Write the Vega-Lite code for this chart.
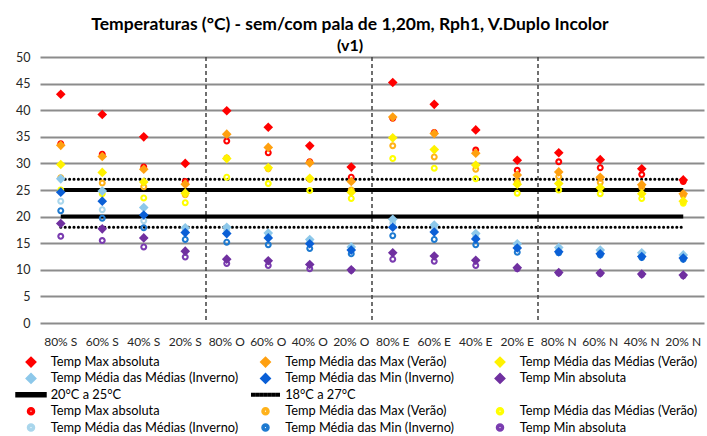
{
  "$schema": "https://vega.github.io/schema/vega-lite/v6.json",
  "width": 664,
  "height": 266,
  "autosize": {"type": "none"},
  "padding": {"left": 40, "top": 57, "right": 3, "bottom": 113},
  "background": "white",
  "config": {"font": "Lato", "view": {"stroke": null}},
  "title": {
    "text": "Temperaturas (°C) - sem/com pala de 1,20m, Rph1, V.Duplo Incolor",
    "subtitle": "(v1)",
    "frame": "group",
    "anchor": "middle",
    "dx": -22,
    "offset": -3,
    "fontSize": 17.5,
    "fontWeight": "bold",
    "color": "#000000",
    "subtitleFontSize": 16,
    "subtitleFontWeight": "bold",
    "subtitleColor": "#000000",
    "subtitlePadding": 5
  },
  "datasets": {
    "sep": [{"c": "20% S"}, {"c": "20% O"}, {"c": "20% E"}],
    "solid": [
      {"c": "80% S", "v": 20, "k": "20", "s": "07 20°C a 25°C"},
      {"c": "20% N", "v": 20, "k": "20", "s": "07 20°C a 25°C"},
      {"c": "80% S", "v": 25, "k": "25", "s": "07 20°C a 25°C"},
      {"c": "20% N", "v": 25, "k": "25", "s": "07 20°C a 25°C"}
    ],
    "dotted": [
      {"c": "80% S", "v": 18, "k": "18", "s": "08 18°C a 27°C"},
      {"c": "20% N", "v": 18, "k": "18", "s": "08 18°C a 27°C"},
      {"c": "80% S", "v": 27, "k": "27", "s": "08 18°C a 27°C"},
      {"c": "20% N", "v": 27, "k": "27", "s": "08 18°C a 27°C"}
    ],
    "pts": [
      {"c": "80% S", "s": "10 Temp Max absoluta", "v": 33.7},
      {"c": "80% S", "s": "11 Temp Média das Max (Verão)", "v": 27.3},
      {"c": "80% S", "s": "12 Temp Média das Médias (Verão)", "v": 25.0},
      {"c": "80% S", "s": "13 Temp Média das Médias (Inverno)", "v": 22.9},
      {"c": "80% S", "s": "14 Temp Média das Min (Inverno)", "v": 21.1},
      {"c": "80% S", "s": "15 Temp Min absoluta", "v": 16.3},
      {"c": "60% S", "s": "10 Temp Max absoluta", "v": 31.7},
      {"c": "60% S", "s": "11 Temp Média das Max (Verão)", "v": 26.3},
      {"c": "60% S", "s": "12 Temp Média das Médias (Verão)", "v": 24.3},
      {"c": "60% S", "s": "13 Temp Média das Médias (Inverno)", "v": 21.3},
      {"c": "60% S", "s": "14 Temp Média das Min (Inverno)", "v": 19.7},
      {"c": "60% S", "s": "15 Temp Min absoluta", "v": 15.5},
      {"c": "40% S", "s": "10 Temp Max absoluta", "v": 29.3},
      {"c": "40% S", "s": "11 Temp Média das Max (Verão)", "v": 25.6},
      {"c": "40% S", "s": "12 Temp Média das Médias (Verão)", "v": 23.5},
      {"c": "40% S", "s": "13 Temp Média das Médias (Inverno)", "v": 19.2},
      {"c": "40% S", "s": "14 Temp Média das Min (Inverno)", "v": 17.9},
      {"c": "40% S", "s": "15 Temp Min absoluta", "v": 14.3},
      {"c": "20% S", "s": "10 Temp Max absoluta", "v": 26.6},
      {"c": "20% S", "s": "11 Temp Média das Max (Verão)", "v": 24.1},
      {"c": "20% S", "s": "12 Temp Média das Médias (Verão)", "v": 22.6},
      {"c": "20% S", "s": "13 Temp Média das Médias (Inverno)", "v": 17.5},
      {"c": "20% S", "s": "14 Temp Média das Min (Inverno)", "v": 15.7},
      {"c": "20% S", "s": "15 Temp Min absoluta", "v": 12.4},
      {"c": "80% O", "s": "10 Temp Max absoluta", "v": 34.2},
      {"c": "80% O", "s": "11 Temp Média das Max (Verão)", "v": 31.0},
      {"c": "80% O", "s": "12 Temp Média das Médias (Verão)", "v": 27.4},
      {"c": "80% O", "s": "13 Temp Média das Médias (Inverno)", "v": 17.4},
      {"c": "80% O", "s": "14 Temp Média das Min (Inverno)", "v": 15.2},
      {"c": "80% O", "s": "15 Temp Min absoluta", "v": 11.2},
      {"c": "60% O", "s": "10 Temp Max absoluta", "v": 32.0},
      {"c": "60% O", "s": "11 Temp Média das Max (Verão)", "v": 29.0},
      {"c": "60% O", "s": "12 Temp Média das Médias (Verão)", "v": 26.2},
      {"c": "60% O", "s": "13 Temp Média das Médias (Inverno)", "v": 16.3},
      {"c": "60% O", "s": "14 Temp Média das Min (Inverno)", "v": 14.7},
      {"c": "60% O", "s": "15 Temp Min absoluta", "v": 10.8},
      {"c": "40% O", "s": "10 Temp Max absoluta", "v": 30.3},
      {"c": "40% O", "s": "11 Temp Média das Max (Verão)", "v": 27.0},
      {"c": "40% O", "s": "12 Temp Média das Médias (Verão)", "v": 24.9},
      {"c": "40% O", "s": "13 Temp Média das Médias (Inverno)", "v": 15.3},
      {"c": "40% O", "s": "14 Temp Média das Min (Inverno)", "v": 14.0},
      {"c": "40% O", "s": "15 Temp Min absoluta", "v": 10.2},
      {"c": "20% O", "s": "10 Temp Max absoluta", "v": 27.4},
      {"c": "20% O", "s": "11 Temp Média das Max (Verão)", "v": 25.0},
      {"c": "20% O", "s": "12 Temp Média das Médias (Verão)", "v": 23.4},
      {"c": "20% O", "s": "13 Temp Média das Médias (Inverno)", "v": 13.8},
      {"c": "20% O", "s": "14 Temp Média das Min (Inverno)", "v": 13.0},
      {"c": "20% O", "s": "15 Temp Min absoluta", "v": 9.9},
      {"c": "80% E", "s": "10 Temp Max absoluta", "v": 38.5},
      {"c": "80% E", "s": "11 Temp Média das Max (Verão)", "v": 33.3},
      {"c": "80% E", "s": "12 Temp Média das Médias (Verão)", "v": 30.9},
      {"c": "80% E", "s": "13 Temp Média das Médias (Inverno)", "v": 18.8},
      {"c": "80% E", "s": "14 Temp Média das Min (Inverno)", "v": 16.4},
      {"c": "80% E", "s": "15 Temp Min absoluta", "v": 12.0},
      {"c": "60% E", "s": "10 Temp Max absoluta", "v": 35.8},
      {"c": "60% E", "s": "11 Temp Média das Max (Verão)", "v": 31.2},
      {"c": "60% E", "s": "12 Temp Média das Médias (Verão)", "v": 29.1},
      {"c": "60% E", "s": "13 Temp Média das Médias (Inverno)", "v": 17.6},
      {"c": "60% E", "s": "14 Temp Média das Min (Inverno)", "v": 15.7},
      {"c": "60% E", "s": "15 Temp Min absoluta", "v": 11.6},
      {"c": "40% E", "s": "10 Temp Max absoluta", "v": 32.5},
      {"c": "40% E", "s": "11 Temp Média das Max (Verão)", "v": 28.9},
      {"c": "40% E", "s": "12 Temp Média das Médias (Verão)", "v": 27.1},
      {"c": "40% E", "s": "13 Temp Média das Médias (Inverno)", "v": 16.2},
      {"c": "40% E", "s": "14 Temp Média das Min (Inverno)", "v": 14.7},
      {"c": "40% E", "s": "15 Temp Min absoluta", "v": 10.8},
      {"c": "20% E", "s": "10 Temp Max absoluta", "v": 28.7},
      {"c": "20% E", "s": "11 Temp Média das Max (Verão)", "v": 26.5},
      {"c": "20% E", "s": "12 Temp Média das Médias (Verão)", "v": 24.4},
      {"c": "20% E", "s": "13 Temp Média das Médias (Inverno)", "v": 14.5},
      {"c": "20% E", "s": "14 Temp Média das Min (Inverno)", "v": 13.3},
      {"c": "20% E", "s": "15 Temp Min absoluta", "v": 10.2},
      {"c": "80% N", "s": "10 Temp Max absoluta", "v": 30.3},
      {"c": "80% N", "s": "11 Temp Média das Max (Verão)", "v": 27.5},
      {"c": "80% N", "s": "12 Temp Média das Médias (Verão)", "v": 25.0},
      {"c": "80% N", "s": "13 Temp Média das Médias (Inverno)", "v": 13.8},
      {"c": "80% N", "s": "14 Temp Média das Min (Inverno)", "v": 13.2},
      {"c": "80% N", "s": "15 Temp Min absoluta", "v": 9.4},
      {"c": "60% N", "s": "10 Temp Max absoluta", "v": 29.2},
      {"c": "60% N", "s": "11 Temp Média das Max (Verão)", "v": 26.4},
      {"c": "60% N", "s": "12 Temp Média das Médias (Verão)", "v": 24.3},
      {"c": "60% N", "s": "13 Temp Média das Médias (Inverno)", "v": 13.4},
      {"c": "60% N", "s": "14 Temp Média das Min (Inverno)", "v": 12.8},
      {"c": "60% N", "s": "15 Temp Min absoluta", "v": 9.3},
      {"c": "40% N", "s": "10 Temp Max absoluta", "v": 27.9},
      {"c": "40% N", "s": "11 Temp Média das Max (Verão)", "v": 25.5},
      {"c": "40% N", "s": "12 Temp Média das Médias (Verão)", "v": 23.4},
      {"c": "40% N", "s": "13 Temp Média das Médias (Inverno)", "v": 12.9},
      {"c": "40% N", "s": "14 Temp Média das Min (Inverno)", "v": 12.3},
      {"c": "40% N", "s": "15 Temp Min absoluta", "v": 9.1},
      {"c": "20% N", "s": "10 Temp Max absoluta", "v": 26.6},
      {"c": "20% N", "s": "11 Temp Média das Max (Verão)", "v": 24.0},
      {"c": "20% N", "s": "12 Temp Média das Médias (Verão)", "v": 22.5},
      {"c": "20% N", "s": "13 Temp Média das Médias (Inverno)", "v": 12.5},
      {"c": "20% N", "s": "14 Temp Média das Min (Inverno)", "v": 12.0},
      {"c": "20% N", "s": "15 Temp Min absoluta", "v": 8.9},
      {"c": "80% S", "s": "01 Temp Max absoluta", "v": 43.0},
      {"c": "80% S", "s": "02 Temp Média das Max (Verão)", "v": 33.4},
      {"c": "80% S", "s": "03 Temp Média das Médias (Verão)", "v": 29.8},
      {"c": "80% S", "s": "04 Temp Média das Médias (Inverno)", "v": 27.1},
      {"c": "80% S", "s": "05 Temp Média das Min (Inverno)", "v": 24.6},
      {"c": "80% S", "s": "06 Temp Min absoluta", "v": 18.7},
      {"c": "60% S", "s": "01 Temp Max absoluta", "v": 39.2},
      {"c": "60% S", "s": "02 Temp Média das Max (Verão)", "v": 31.3},
      {"c": "60% S", "s": "03 Temp Média das Médias (Verão)", "v": 28.3},
      {"c": "60% S", "s": "04 Temp Média das Médias (Inverno)", "v": 24.8},
      {"c": "60% S", "s": "05 Temp Média das Min (Inverno)", "v": 22.9},
      {"c": "60% S", "s": "06 Temp Min absoluta", "v": 17.7},
      {"c": "40% S", "s": "01 Temp Max absoluta", "v": 35.0},
      {"c": "40% S", "s": "02 Temp Média das Max (Verão)", "v": 28.9},
      {"c": "40% S", "s": "03 Temp Média das Médias (Verão)", "v": 26.5},
      {"c": "40% S", "s": "04 Temp Média das Médias (Inverno)", "v": 21.7},
      {"c": "40% S", "s": "05 Temp Média das Min (Inverno)", "v": 20.3},
      {"c": "40% S", "s": "06 Temp Min absoluta", "v": 16.0},
      {"c": "20% S", "s": "01 Temp Max absoluta", "v": 30.0},
      {"c": "20% S", "s": "02 Temp Média das Max (Verão)", "v": 26.1},
      {"c": "20% S", "s": "03 Temp Média das Médias (Verão)", "v": 24.4},
      {"c": "20% S", "s": "04 Temp Média das Médias (Inverno)", "v": 17.9},
      {"c": "20% S", "s": "05 Temp Média das Min (Inverno)", "v": 17.0},
      {"c": "20% S", "s": "06 Temp Min absoluta", "v": 13.5},
      {"c": "80% O", "s": "01 Temp Max absoluta", "v": 39.9},
      {"c": "80% O", "s": "02 Temp Média das Max (Verão)", "v": 35.5},
      {"c": "80% O", "s": "03 Temp Média das Médias (Verão)", "v": 30.9},
      {"c": "80% O", "s": "04 Temp Média das Médias (Inverno)", "v": 18.0},
      {"c": "80% O", "s": "05 Temp Média das Min (Inverno)", "v": 16.8},
      {"c": "80% O", "s": "06 Temp Min absoluta", "v": 12.0},
      {"c": "60% O", "s": "01 Temp Max absoluta", "v": 36.8},
      {"c": "60% O", "s": "02 Temp Média das Max (Verão)", "v": 33.0},
      {"c": "60% O", "s": "03 Temp Média das Médias (Verão)", "v": 29.2},
      {"c": "60% O", "s": "04 Temp Média das Médias (Inverno)", "v": 16.9},
      {"c": "60% O", "s": "05 Temp Média das Min (Inverno)", "v": 16.0},
      {"c": "60% O", "s": "06 Temp Min absoluta", "v": 11.7},
      {"c": "40% O", "s": "01 Temp Max absoluta", "v": 33.3},
      {"c": "40% O", "s": "02 Temp Média das Max (Verão)", "v": 30.1},
      {"c": "40% O", "s": "03 Temp Média das Médias (Verão)", "v": 27.2},
      {"c": "40% O", "s": "04 Temp Média das Médias (Inverno)", "v": 15.7},
      {"c": "40% O", "s": "05 Temp Média das Min (Inverno)", "v": 14.9},
      {"c": "40% O", "s": "06 Temp Min absoluta", "v": 11.0},
      {"c": "20% O", "s": "01 Temp Max absoluta", "v": 29.3},
      {"c": "20% O", "s": "02 Temp Média das Max (Verão)", "v": 26.6},
      {"c": "20% O", "s": "03 Temp Média das Médias (Verão)", "v": 24.6},
      {"c": "20% O", "s": "04 Temp Média das Médias (Inverno)", "v": 14.3},
      {"c": "20% O", "s": "05 Temp Média das Min (Inverno)", "v": 13.7},
      {"c": "20% O", "s": "06 Temp Min absoluta", "v": 10.0},
      {"c": "80% E", "s": "01 Temp Max absoluta", "v": 45.2},
      {"c": "80% E", "s": "02 Temp Média das Max (Verão)", "v": 38.7},
      {"c": "80% E", "s": "03 Temp Média das Médias (Verão)", "v": 34.8},
      {"c": "80% E", "s": "04 Temp Média das Médias (Inverno)", "v": 19.5},
      {"c": "80% E", "s": "05 Temp Média das Min (Inverno)", "v": 18.0},
      {"c": "80% E", "s": "06 Temp Min absoluta", "v": 13.2},
      {"c": "60% E", "s": "01 Temp Max absoluta", "v": 41.1},
      {"c": "60% E", "s": "02 Temp Média das Max (Verão)", "v": 35.6},
      {"c": "60% E", "s": "03 Temp Média das Médias (Verão)", "v": 32.6},
      {"c": "60% E", "s": "04 Temp Média das Médias (Inverno)", "v": 18.4},
      {"c": "60% E", "s": "05 Temp Média das Min (Inverno)", "v": 17.1},
      {"c": "60% E", "s": "06 Temp Min absoluta", "v": 12.6},
      {"c": "40% E", "s": "01 Temp Max absoluta", "v": 36.3},
      {"c": "40% E", "s": "02 Temp Média das Max (Verão)", "v": 31.9},
      {"c": "40% E", "s": "03 Temp Média das Médias (Verão)", "v": 29.7},
      {"c": "40% E", "s": "04 Temp Média das Médias (Inverno)", "v": 16.8},
      {"c": "40% E", "s": "05 Temp Média das Min (Inverno)", "v": 15.8},
      {"c": "40% E", "s": "06 Temp Min absoluta", "v": 11.8},
      {"c": "20% E", "s": "01 Temp Max absoluta", "v": 30.6},
      {"c": "20% E", "s": "02 Temp Média das Max (Verão)", "v": 27.8},
      {"c": "20% E", "s": "03 Temp Média das Médias (Verão)", "v": 26.1},
      {"c": "20% E", "s": "04 Temp Média das Médias (Inverno)", "v": 14.9},
      {"c": "20% E", "s": "05 Temp Média das Min (Inverno)", "v": 14.1},
      {"c": "20% E", "s": "06 Temp Min absoluta", "v": 10.4},
      {"c": "80% N", "s": "01 Temp Max absoluta", "v": 32.0},
      {"c": "80% N", "s": "02 Temp Média das Max (Verão)", "v": 28.4},
      {"c": "80% N", "s": "03 Temp Média das Médias (Verão)", "v": 26.2},
      {"c": "80% N", "s": "04 Temp Média das Médias (Inverno)", "v": 14.2},
      {"c": "80% N", "s": "05 Temp Média das Min (Inverno)", "v": 13.4},
      {"c": "80% N", "s": "06 Temp Min absoluta", "v": 9.5},
      {"c": "60% N", "s": "01 Temp Max absoluta", "v": 30.7},
      {"c": "60% N", "s": "02 Temp Média das Max (Verão)", "v": 27.4},
      {"c": "60% N", "s": "03 Temp Média das Médias (Verão)", "v": 25.4},
      {"c": "60% N", "s": "04 Temp Média das Médias (Inverno)", "v": 13.7},
      {"c": "60% N", "s": "05 Temp Média das Min (Inverno)", "v": 13.0},
      {"c": "60% N", "s": "06 Temp Min absoluta", "v": 9.4},
      {"c": "40% N", "s": "01 Temp Max absoluta", "v": 29.0},
      {"c": "40% N", "s": "02 Temp Média das Max (Verão)", "v": 26.0},
      {"c": "40% N", "s": "03 Temp Média das Médias (Verão)", "v": 24.3},
      {"c": "40% N", "s": "04 Temp Média das Médias (Inverno)", "v": 13.2},
      {"c": "40% N", "s": "05 Temp Média das Min (Inverno)", "v": 12.5},
      {"c": "40% N", "s": "06 Temp Min absoluta", "v": 9.2},
      {"c": "20% N", "s": "01 Temp Max absoluta", "v": 26.9},
      {"c": "20% N", "s": "02 Temp Média das Max (Verão)", "v": 24.3},
      {"c": "20% N", "s": "03 Temp Média das Médias (Verão)", "v": 22.9},
      {"c": "20% N", "s": "04 Temp Média das Médias (Inverno)", "v": 12.8},
      {"c": "20% N", "s": "05 Temp Média das Min (Inverno)", "v": 12.2},
      {"c": "20% N", "s": "06 Temp Min absoluta", "v": 9.0}
    ]
  },
  "encoding": {
    "x": {
      "field": "c",
      "type": "nominal",
      "scale": {"type": "band", "domain": ["80% S", "60% S", "40% S", "20% S", "80% O", "60% O", "40% O", "20% O", "80% E", "60% E", "40% E", "20% E", "80% N", "60% N", "40% N", "20% N"], "paddingInner": 0, "paddingOuter": 0},
      "axis": {"title": null, "labelAngle": 0, "ticks": false, "domain": false, "grid": false, "labelPadding": 13, "labelFont": "Lato", "labelFontSize": 12, "labelColor": "#262626"}
    }
  },
  "layer": [
    {
      "data": {"name": "sep"},
      "mark": {"type": "rule", "color": "#404040", "strokeDash": [4, 3], "strokeWidth": 1.5},
      "encoding": {
        "x": {
          "field": "c",
          "type": "nominal",
          "bandPosition": 1,
          "scale": {"type": "band", "domain": ["80% S", "60% S", "40% S", "20% S", "80% O", "60% O", "40% O", "20% O", "80% E", "60% E", "40% E", "20% E", "80% N", "60% N", "40% N", "20% N"], "paddingInner": 0, "paddingOuter": 0},
          "axis": {"title": null, "labelAngle": 0, "ticks": false, "domain": false, "grid": false, "labelPadding": 13, "labelFont": "Lato", "labelFontSize": 12, "labelColor": "#262626"}
        }
      }
    },
    {
      "data": {"name": "solid"},
      "mark": {"type": "line", "strokeWidth": 4, "strokeCap": "butt"},
      "encoding": {
        "y": {"field": "v", "type": "quantitative", "scale": {"domain": [0, 50], "nice": false}, "axis": {"title": null, "values": [0, 5, 10, 15, 20, 25, 30, 35, 40, 45, 50], "ticks": false, "domain": false, "labelPadding": 10, "labelFont": "Lato", "labelFontSize": 12.5, "labelColor": "#262626", "gridColor": "#8C8C8C", "gridWidth": 2}},
        "detail": {"field": "k", "type": "nominal"},
        "color": {
          "field": "s", "type": "nominal",
          "scale": {
            "domain": ["01 Temp Max absoluta", "02 Temp Média das Max (Verão)", "03 Temp Média das Médias (Verão)", "04 Temp Média das Médias (Inverno)", "05 Temp Média das Min (Inverno)", "06 Temp Min absoluta", "07 20°C a 25°C", "08 18°C a 27°C", "09 ", "10 Temp Max absoluta", "11 Temp Média das Max (Verão)", "12 Temp Média das Médias (Verão)", "13 Temp Média das Médias (Inverno)", "14 Temp Média das Min (Inverno)", "15 Temp Min absoluta"],
            "range": ["#FF0000", "#FFA010", "#FFF200", "#8DC8EA", "#0A5FD6", "#7030A0", "#000000", "#000000", "#FFFFFF", "#FF0000", "#FFB21A", "#FFFF00", "#A9D6EC", "#1E7AD0", "#7A3CB0"]
          },
          "legend": {"title": null, "orient": "none", "direction": "horizontal", "legendX": -17, "legendY": 297, "columns": 3, "gridAlign": "all", "columnPadding": 9.5, "rowPadding": 0.4, "symbolSize": 196, "labelOffset": 11.7, "labelFont": "Lato", "labelFontSize": 12.8, "labelColor": "#000000", "labelLimit": 300, "padding": 0, "labelExpr": "substring(datum.value, 3)", "encode": {"symbols": {"update": {"fill": {"scale": "color", "field": "value"}, "shape": {"scale": "shape", "field": "value"}, "stroke": {"value": "transparent"}, "size": {"value": 196}, "opacity": {"value": 1}, "strokeDash": {"value": []}}}}}
        }
      }
    },
    {
      "data": {"name": "dotted"},
      "mark": {"type": "line", "strokeWidth": 3, "strokeCap": "round", "strokeDash": [0.1, 4.3]},
      "encoding": {
        "y": {"field": "v", "type": "quantitative", "scale": {"domain": [0, 50], "nice": false}, "axis": {"title": null, "values": [0, 5, 10, 15, 20, 25, 30, 35, 40, 45, 50], "ticks": false, "domain": false, "labelPadding": 10, "labelFont": "Lato", "labelFontSize": 12.5, "labelColor": "#262626", "gridColor": "#8C8C8C", "gridWidth": 2}},
        "detail": {"field": "k", "type": "nominal"},
        "color": {
          "field": "s", "type": "nominal",
          "scale": {
            "domain": ["01 Temp Max absoluta", "02 Temp Média das Max (Verão)", "03 Temp Média das Médias (Verão)", "04 Temp Média das Médias (Inverno)", "05 Temp Média das Min (Inverno)", "06 Temp Min absoluta", "07 20°C a 25°C", "08 18°C a 27°C", "09 ", "10 Temp Max absoluta", "11 Temp Média das Max (Verão)", "12 Temp Média das Médias (Verão)", "13 Temp Média das Médias (Inverno)", "14 Temp Média das Min (Inverno)", "15 Temp Min absoluta"],
            "range": ["#FF0000", "#FFA010", "#FFF200", "#8DC8EA", "#0A5FD6", "#7030A0", "#000000", "#000000", "#FFFFFF", "#FF0000", "#FFB21A", "#FFFF00", "#A9D6EC", "#1E7AD0", "#7A3CB0"]
          },
          "legend": {"title": null, "orient": "none", "direction": "horizontal", "legendX": -17, "legendY": 297, "columns": 3, "gridAlign": "all", "columnPadding": 9.5, "rowPadding": 0.4, "symbolSize": 196, "labelOffset": 11.7, "labelFont": "Lato", "labelFontSize": 12.8, "labelColor": "#000000", "labelLimit": 300, "padding": 0, "labelExpr": "substring(datum.value, 3)", "encode": {"symbols": {"update": {"fill": {"scale": "color", "field": "value"}, "shape": {"scale": "shape", "field": "value"}, "stroke": {"value": "transparent"}, "size": {"value": 196}, "opacity": {"value": 1}, "strokeDash": {"value": []}}}}}
        }
      }
    },
    {
      "data": {"name": "pts"},
      "mark": {"type": "point", "filled": true, "size": 196, "opacity": 1, "strokeWidth": 0},
      "encoding": {
        "y": {"field": "v", "type": "quantitative", "scale": {"domain": [0, 50], "nice": false}, "axis": {"title": null, "values": [0, 5, 10, 15, 20, 25, 30, 35, 40, 45, 50], "ticks": false, "domain": false, "labelPadding": 10, "labelFont": "Lato", "labelFontSize": 12.5, "labelColor": "#262626", "gridColor": "#8C8C8C", "gridWidth": 2}},
        "color": {
          "field": "s", "type": "nominal",
          "scale": {
            "domain": ["01 Temp Max absoluta", "02 Temp Média das Max (Verão)", "03 Temp Média das Médias (Verão)", "04 Temp Média das Médias (Inverno)", "05 Temp Média das Min (Inverno)", "06 Temp Min absoluta", "07 20°C a 25°C", "08 18°C a 27°C", "09 ", "10 Temp Max absoluta", "11 Temp Média das Max (Verão)", "12 Temp Média das Médias (Verão)", "13 Temp Média das Médias (Inverno)", "14 Temp Média das Min (Inverno)", "15 Temp Min absoluta"],
            "range": ["#FF0000", "#FFA010", "#FFF200", "#8DC8EA", "#0A5FD6", "#7030A0", "#000000", "#000000", "#FFFFFF", "#FF0000", "#FFB21A", "#FFFF00", "#A9D6EC", "#1E7AD0", "#7A3CB0"]
          },
          "legend": {"title": null, "orient": "none", "direction": "horizontal", "legendX": -17, "legendY": 297, "columns": 3, "gridAlign": "all", "columnPadding": 9.5, "rowPadding": 0.4, "symbolSize": 196, "labelOffset": 11.7, "labelFont": "Lato", "labelFontSize": 12.8, "labelColor": "#000000", "labelLimit": 300, "padding": 0, "labelExpr": "substring(datum.value, 3)", "encode": {"symbols": {"update": {"fill": {"scale": "color", "field": "value"}, "shape": {"scale": "shape", "field": "value"}, "stroke": {"value": "transparent"}, "size": {"value": 196}, "opacity": {"value": 1}, "strokeDash": {"value": []}}}}}
        },
        "shape": {
          "field": "s", "type": "nominal",
          "scale": {
            "domain": ["01 Temp Max absoluta", "02 Temp Média das Max (Verão)", "03 Temp Média das Médias (Verão)", "04 Temp Média das Médias (Inverno)", "05 Temp Média das Min (Inverno)", "06 Temp Min absoluta", "07 20°C a 25°C", "08 18°C a 27°C", "09 ", "10 Temp Max absoluta", "11 Temp Média das Max (Verão)", "12 Temp Média das Médias (Verão)", "13 Temp Média das Médias (Inverno)", "14 Temp Média das Min (Inverno)", "15 Temp Min absoluta"],
            "range": [
              "M0,-0.69L0.69,0L0,0.69L-0.69,0Z", "M0,-0.69L0.69,0L0,0.69L-0.69,0Z", "M0,-0.69L0.69,0L0,0.69L-0.69,0Z", "M0,-0.69L0.69,0L0,0.69L-0.69,0Z", "M0,-0.69L0.69,0L0,0.69L-0.69,0Z", "M0,-0.69L0.69,0L0,0.69L-0.69,0Z",
              "M-2.14,-0.29H2.14V0.29H-2.14Z",
              "M-1.966,-0.183h0.366v0.366h-0.366ZM-1.372,-0.183h0.366v0.366h-0.366ZM-0.777,-0.183h0.366v0.366h-0.366ZM-0.183,-0.183h0.366v0.366h-0.366ZM0.411,-0.183h0.366v0.366h-0.366ZM1.006,-0.183h0.366v0.366h-0.366ZM1.6,-0.183h0.366v0.366h-0.366Z",
              "M0,0h0.01v0.01h-0.01Z",
              "M-0.5,0A0.5,0.5,0,1,0,0.5,0A0.5,0.5,0,1,0,-0.5,0ZM-0.2,0A0.2,0.2,0,1,1,0.2,0A0.2,0.2,0,1,1,-0.2,0Z", "M-0.5,0A0.5,0.5,0,1,0,0.5,0A0.5,0.5,0,1,0,-0.5,0ZM-0.2,0A0.2,0.2,0,1,1,0.2,0A0.2,0.2,0,1,1,-0.2,0Z", "M-0.5,0A0.5,0.5,0,1,0,0.5,0A0.5,0.5,0,1,0,-0.5,0ZM-0.2,0A0.2,0.2,0,1,1,0.2,0A0.2,0.2,0,1,1,-0.2,0Z", "M-0.5,0A0.5,0.5,0,1,0,0.5,0A0.5,0.5,0,1,0,-0.5,0ZM-0.2,0A0.2,0.2,0,1,1,0.2,0A0.2,0.2,0,1,1,-0.2,0Z", "M-0.5,0A0.5,0.5,0,1,0,0.5,0A0.5,0.5,0,1,0,-0.5,0ZM-0.2,0A0.2,0.2,0,1,1,0.2,0A0.2,0.2,0,1,1,-0.2,0Z", "M-0.5,0A0.5,0.5,0,1,0,0.5,0A0.5,0.5,0,1,0,-0.5,0ZM-0.2,0A0.2,0.2,0,1,1,0.2,0A0.2,0.2,0,1,1,-0.2,0Z"
            ]
          },
          "legend": {"title": null, "orient": "none", "direction": "horizontal", "legendX": -17, "legendY": 297, "columns": 3, "gridAlign": "all", "columnPadding": 9.5, "rowPadding": 0.4, "symbolSize": 196, "labelOffset": 11.7, "labelFont": "Lato", "labelFontSize": 12.8, "labelColor": "#000000", "labelLimit": 300, "padding": 0, "labelExpr": "substring(datum.value, 3)", "encode": {"symbols": {"update": {"fill": {"scale": "color", "field": "value"}, "shape": {"scale": "shape", "field": "value"}, "stroke": {"value": "transparent"}, "size": {"value": 196}, "opacity": {"value": 1}, "strokeDash": {"value": []}}}}}
        }
      }
    }
  ]
}
